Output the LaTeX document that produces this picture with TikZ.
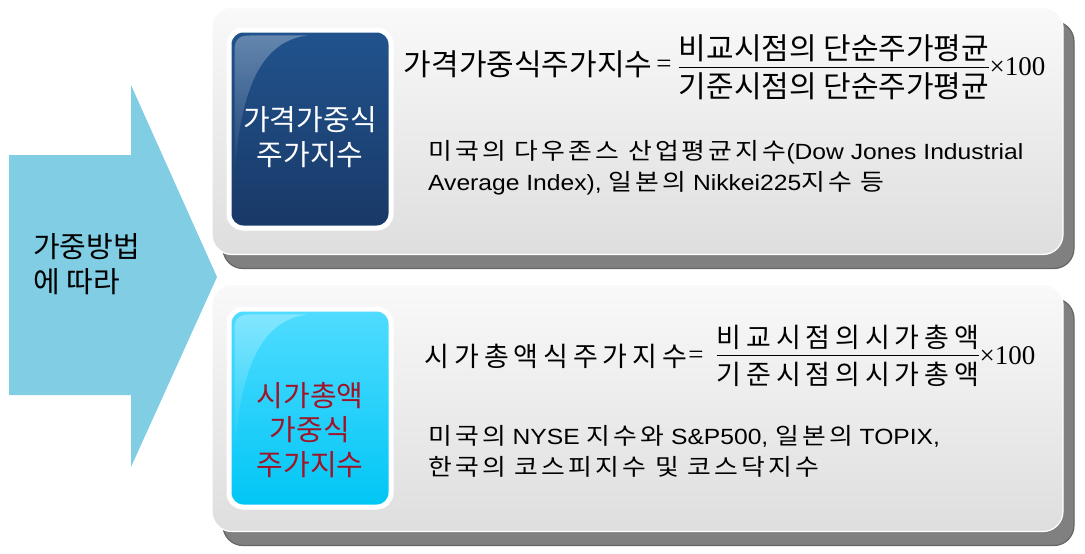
\documentclass[tikz,border=0pt]{standalone}
\usepackage{fontspec}
\setmainfont{Liberation Sans}
\newfontfamily\kr{Noto Sans CJK KR}
\newfontfamily\krnote[Scale=1.05, LetterSpace=12]{Noto Sans CJK KR}
\newfontfamily\krwide[LetterSpace=18]{Noto Sans CJK KR}
\newfontfamily\tnr{Liberation Serif}
\usepackage{tikz}
\usetikzlibrary{shadows, calc, fadings}
\definecolor{ArrowBlue}{RGB}{128, 205, 228}
\definecolor{PanelTop}{RGB}{249, 249, 249}
\definecolor{PanelBot}{RGB}{222, 222, 222}
\definecolor{KeyBlueTop}{RGB}{33, 83, 141}
\definecolor{KeyBlueBot}{RGB}{25, 57, 103}
\definecolor{KeyCyanTop}{RGB}{80, 220, 255}
\definecolor{KeyCyanBot}{RGB}{0, 198, 245}
\definecolor{KeyRed}{RGB}{160, 20, 40}

\tikzset{
  panel/.style={rounded corners=20pt, minimum width=851pt, minimum height=247pt, inner sep=0pt,
    top color=PanelTop, bottom color=PanelBot, draw=white, line width=1.2pt,
    general shadow={fill=black!50, draw=black!60, shadow xshift=11pt, shadow yshift=-14pt}},
  keybox/.style={rounded corners=14pt, minimum width=162pt, minimum height=198pt, inner sep=0pt,
    draw=white, line width=5pt},
  keytext/.style={align=center, inner sep=0pt, font=\kr\fontsize{29}{34.5}\selectfont},
  formula/.style={inner sep=0pt, font=\kr\fontsize{30}{34}\selectfont},
  widefrm/.style={inner sep=0pt, font=\krwide\fontsize{27}{32}\selectfont},
  serifsym/.style={inner sep=0pt, font=\tnr\fontsize{27}{32}\selectfont},
  fracbar/.style={line width=1pt},
  note/.style={anchor=west, align=left, inner sep=0pt, xscale=1.12, font=\fontsize{22}{30.5}\selectfont}
}

\newcommand{\glossOn}[1]{%
  \fill[white, fill opacity=0.3, path fading=south]
    ([shift={(8,150)}]#1.north west) -- ([shift={(8,24)}]#1.north west)
    .. controls ([shift={(8,12)}]#1.north west) and ([shift={(12,8)}]#1.north west) .. ([shift={(24,8)}]#1.north west)
    -- ([shift={(80,8)}]#1.north west)
    .. controls ([shift={(40,14)}]#1.north west) and ([shift={(14,50)}]#1.north west) .. cycle;
}

\begin{document}
\begin{tikzpicture}[x=1pt,y=-1pt]
  \path[use as bounding box] (0,0) rectangle (1085,554);

  % arrow on the left
  \fill[ArrowBlue] (9,155) -- (131,155) -- (131,85) -- (217,277) -- (131,467) -- (131,395) -- (9,395) -- cycle;
  \node[keytext, align=left, anchor=west] (byWeight) at (33,264) {가중방법\\에 따라};

  \node[panel] (topPanel) at (637.5,131) {};
  \node[panel] (botPanel) at (637.5,408) {};

  \node[keybox, top color=KeyBlueTop, bottom color=KeyBlueBot] (topKey) at (310,129) {};
  \node[keybox, top color=KeyCyanTop, bottom color=KeyCyanBot] (botKey) at (310,408) {};
  \glossOn{topKey}
  \glossOn{botKey}
  \node[keytext, text=white] (topKeyText) at (310,137) {가격가중식\\주가지수};
  \node[keytext, text=KeyRed] (botKeyText) at (310,430) {시가총액\\가중식\\주가지수};

  % price weighted
  \node[formula] (topLhs) at (528,64) {가격가중식주가지수};
  \node[serifsym] (topEq) at (664,66) {=};
  \node[formula] (topNum) at (834,48) {비교시점의 단순주가평균};
  \node[formula] (topDen) at (834,86) {기준시점의 단순주가평균};
  \coordinate (topMid) at ($(topNum.south)!0.5!(topDen.north)$);
  \draw[fracbar] (topMid -| topDen.west) -- (topMid -| topDen.east);
  \node[serifsym, anchor=west] (topTimes) at (topMid -| topDen.east) {×100};
  \node[note] (topNote) at (428,167.5) {{\krnote 미국의 다우존스 산업평균지수}(Dow Jones Industrial\\
    Average Index), {\krnote 일본의} Nikkei225{\krnote 지수 등}};

  % market cap weighted
  \node[widefrm] (botLhs) at (556,356) {시가총액식주가지수};
  \node[serifsym] (botEq) at (696,357) {=};
  \node[widefrm] (botNum) at (848,337) {비교시점의시가총액};
  \node[widefrm] (botDen) at (848,374) {기준시점의시가총액};
  \coordinate (botMid) at ($(botNum.south)!0.5!(botDen.north)$);
  \draw[fracbar] (botMid -| botDen.west) -- (botMid -| botDen.east);
  \node[serifsym, anchor=west] (botTimes) at (botMid -| botDen.east) {×100};
  \node[note] (botNote) at (428,451.5) {{\krnote 미국의} NYSE {\krnote 지수와} S\&P500, {\krnote 일본의} TOPIX,\\
    {\krnote 한국의 코스피지수 및 코스닥지수}};
\end{tikzpicture}
\end{document}
